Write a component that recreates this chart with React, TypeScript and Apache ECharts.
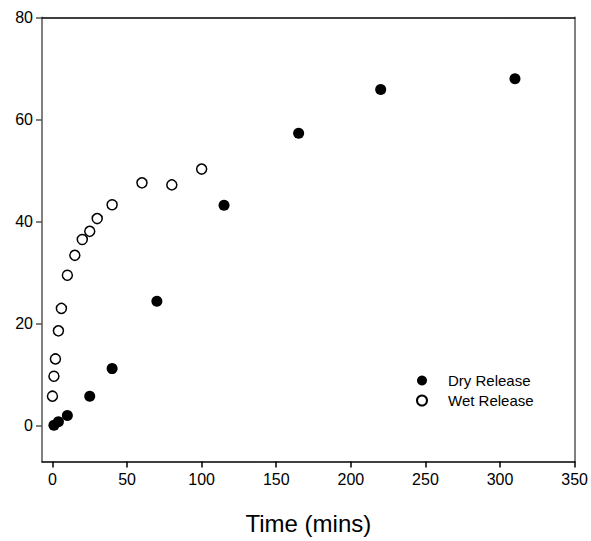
import React, { useEffect, useRef } from "react";
import * as echarts from "echarts";

const dryTimes = [1, 4, 10, 25, 40, 70, 115, 165, 220, 310];
const dryValues = [0.1, 0.8, 2.0, 5.8, 11.2, 24.4, 43.2, 57.3, 65.9, 68.0];
const wetTimes = [0, 1, 2, 4, 6, 10, 15, 20, 25, 30, 40, 60, 80, 100];
const wetValues = [5.8, 9.7, 13.1, 18.6, 23.0, 29.5, 33.4, 36.5, 38.1, 40.6, 43.3, 47.6, 47.2, 50.3];
const xTicks = [0, 50, 100, 150, 200, 250, 300, 350];
const yTicks = [0, 20, 40, 60, 80];

const FONT = "'Liberation Sans', Arial, sans-serif";

export default function App() {
  const ref = useRef<HTMLDivElement>(null);
  useEffect(() => {
    if (!ref.current) return;
    const chart = echarts.init(ref.current, undefined, { renderer: "svg" });
    const dry = dryTimes.map((t, i) => [t, dryValues[i]]);
    const wet = wetTimes.map((t, i) => [t, wetValues[i]]);
    chart.setOption({
      animation: false,
      backgroundColor: "#fff",
      textStyle: { fontFamily: FONT },
      grid: { left: 42, right: 13, top: 17.5, bottom: 79.5 },
      legend: {
        orient: "vertical",
        left: 411,
        top: 368,
        itemWidth: 10,
        itemHeight: 10,
        itemGap: 5,
        icon: "circle",
        textStyle: { fontSize: 15, color: "#000", fontFamily: FONT, padding: [0, 0, 0, 16] },
        data: ["Dry Release", "Wet Release"],
      },
      xAxis: [
        {
          type: "value",
          min: -7,
          max: 350,
          name: "Time (mins)",
          nameLocation: "middle",
          nameGap: 50,
          nameTextStyle: { fontSize: 24, color: "#000", fontFamily: FONT },
          axisLine: { onZero: false, lineStyle: { color: "#000", width: 1.5 } },
          axisTick: { show: true, inside: false, length: 6, customValues: xTicks, lineStyle: { color: "#000", width: 1.5 } },
          axisLabel: { customValues: xTicks, fontSize: 16, color: "#000", margin: 10, fontFamily: FONT },
          splitLine: { show: false },
        },
        {
          type: "value",
          position: "top",
          min: -7,
          max: 350,
          axisLine: { show: true, onZero: false, lineStyle: { color: "#000", width: 1.5 } },
          axisTick: { show: false },
          axisLabel: { show: false },
          splitLine: { show: false },
        },
      ],
      yAxis: [
        {
          type: "value",
          min: -7,
          max: 80,
          axisLine: { show: true, onZero: false, lineStyle: { color: "#808080", width: 2 } },
          axisTick: { show: true, inside: false, length: 6, customValues: yTicks, lineStyle: { color: "#555", width: 1.5 } },
          axisLabel: { customValues: yTicks, fontSize: 16, color: "#000", margin: 9, fontFamily: FONT },
          splitLine: { show: false },
        },
        {
          type: "value",
          position: "right",
          min: -7,
          max: 80,
          axisLine: { show: true, onZero: false, lineStyle: { color: "#808080", width: 2 } },
          axisTick: { show: false },
          axisLabel: { show: false },
          splitLine: { show: false },
        },
      ],
      series: [
        {
          name: "Dry Release",
          type: "scatter",
          data: dry,
          symbol: "circle",
          symbolSize: 11,
          itemStyle: { color: "#000", opacity: 1 },
        },
        {
          name: "Wet Release",
          type: "scatter",
          data: wet,
          symbol: "circle",
          symbolSize: 10,
          itemStyle: { color: "#fff", borderColor: "#000", borderWidth: 1.5, opacity: 1 },
        },
      ],
    });
    return () => chart.dispose();
  }, []);
  return (
    <div
      ref={ref}
      style={{ position: "absolute", left: 0, top: 0, width: 591, height: 541, background: "#fff" }}
    />
  );
}
